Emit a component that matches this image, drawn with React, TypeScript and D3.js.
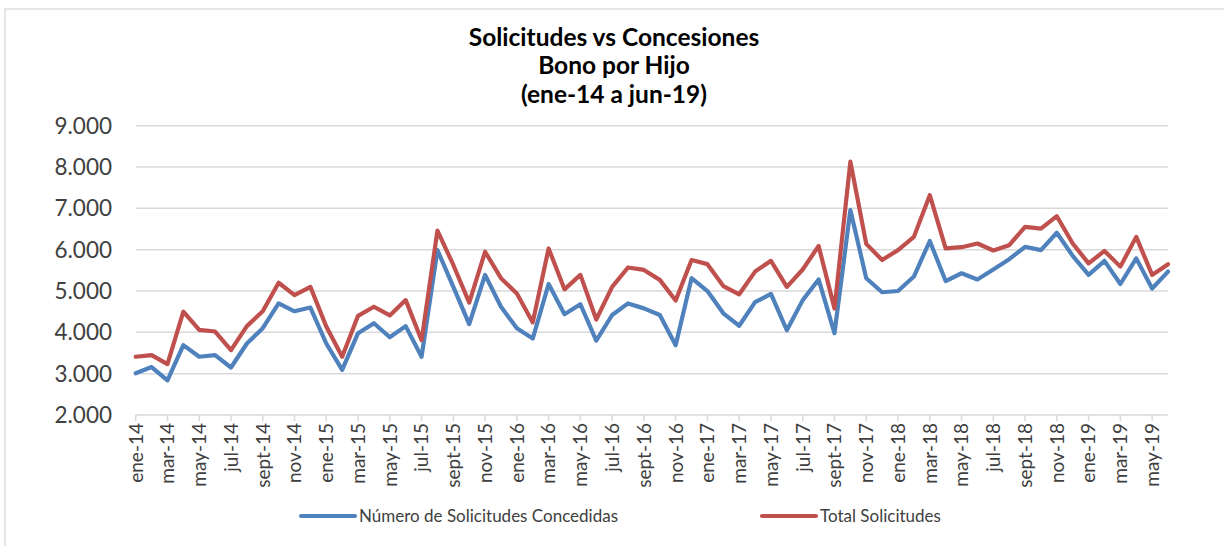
import React from "react";
import * as d3 from "d3";

// months ene-14 .. jun-19
const monthNames = ["ene", "feb", "mar", "abr", "may", "jun", "jul", "ago", "sept", "oct", "nov", "dic"];
const years = ["14", "15", "16", "17", "18", "19"];
const months: string[] = [];
years.forEach((y) => monthNames.forEach((m) => months.push(`${m}-${y}`)));
const categories = months.slice(0, 66);

const concedidas = [
  3010, 3160, 2840, 3690, 3410, 3450, 3150, 3730, 4100, 4700, 4510, 4600,
  3730, 3090, 3980, 4220, 3880, 4150, 3410, 5990, 5100, 4200, 5390, 4620,
  4100, 3850, 5170, 4440, 4680, 3800, 4420, 4700, 4580, 4420, 3690, 5310,
  5000, 4460, 4160, 4730, 4930, 4050, 4780, 5280, 3980, 6960, 5310, 4970,
  5000, 5350, 6210, 5240, 5430, 5280, 5520, 5770, 6070, 5990, 6410, 5850,
  5390, 5730, 5170, 5790, 5060, 5470,
];

const totales = [
  3410, 3450, 3230, 4500, 4060, 4020, 3570, 4150, 4510, 5200, 4900, 5100,
  4140, 3410, 4400, 4620, 4410, 4780, 3810, 6460, 5630, 4720, 5950, 5310,
  4940, 4240, 6030, 5040, 5390, 4310, 5100, 5570, 5510, 5270, 4770, 5750,
  5650, 5120, 4920, 5470, 5730, 5100, 5520, 6090, 4580, 8130, 6140, 5750,
  5990, 6310, 7320, 6030, 6060, 6150, 5980, 6110, 6550, 6510, 6810, 6150,
  5670, 5970, 5590, 6310, 5390, 5650,
];

const yTicks = [2000, 3000, 4000, 5000, 6000, 7000, 8000, 9000];
const titleLines = ["Solicitudes vs Concesiones", "Bono por Hijo", "(ene-14 a jun-19)"];
const seriesNames = ["Número de Solicitudes Concedidas", "Total Solicitudes"];
const colors = ["#4F81BD", "#C0504D"];

const W = 1224;
const H = 546;
const left = 135.7;
const right = 1168;
const top = 125.7;
const bottom = 415;
const font = "Lato, 'Open Sans', sans-serif";
const textColor = "#404040";
const gridColor = "#D9D9D9";

const fmt = (v: number) => d3.format(",")(v).replace(/,/g, ".");

export default function App() {
  const x = d3.scalePoint<string>().domain(categories).range([left, right]);
  const y = d3.scaleLinear().domain([2000, 9000]).range([bottom, top]);

  const line = d3
    .line<number>()
    .x((_, i) => x(categories[i]) as number)
    .y((d) => y(d));

  const tickCats = categories.filter((_, i) => i % 2 === 0);

  return (
    <div style={{ position: "absolute", left: 0, top: 0 }}>
      <svg width={W} height={H} style={{ display: "block", background: "#fff" }}>
        <rect x={5} y={9} width={W + 20} height={H + 20} fill="#fff" stroke={gridColor} strokeWidth={1.3} />

        {titleLines.map((t, i) => (
          <text
            key={t}
            x={614}
            y={45.5 + i * 28.8}
            textAnchor="middle"
            fontFamily={font}
            fontWeight="bold"
            fontSize={24.5}
            fill="#000"
          >
            {t}
          </text>
        ))}

        {/* gridlines */}
        {yTicks.map((t) => (
          <g key={t}>
            <line x1={left} x2={right} y1={y(t)} y2={y(t)} stroke={gridColor} strokeWidth={1.5} />
            <text
              x={112}
              y={y(t)}
              dy="0.36em"
              textAnchor="end"
              fontFamily={font}
              fontSize={22.5}
              fill={textColor}
            >
              {fmt(t)}
            </text>
          </g>
        ))}

        {/* x ticks and labels */}
        {tickCats.map((c) => {
          const px = x(c) as number;
          return (
            <g key={c}>
              <line x1={px} x2={px} y1={bottom} y2={bottom + 6} stroke={gridColor} strokeWidth={1.5} />
              <text
                transform={`translate(${px},${bottom + 8}) rotate(-90)`}
                dy="0.36em"
                textAnchor="end"
                fontFamily={font}
                fontSize={19}
                fill={textColor}
              >
                {c}
              </text>
            </g>
          );
        })}

        {/* series */}
        {[concedidas, totales].map((s, i) => (
          <path
            key={seriesNames[i]}
            d={line(s) ?? ""}
            fill="none"
            stroke={colors[i]}
            strokeWidth={4.2}
            strokeLinejoin="round"
            strokeLinecap="round"
          />
        ))}

        {/* legend */}
        {[
          { lx: 301, tx: 359 },
          { lx: 762, tx: 820 },
        ].map((p, i) => (
          <g key={seriesNames[i]}>
            <line x1={p.lx} x2={p.lx + 54} y1={516} y2={516} stroke={colors[i]} strokeWidth={4.2} strokeLinecap="round" />
            <text x={p.tx} y={516} dy="0.36em" fontFamily={font} fontSize={17} fill={textColor}>
              {seriesNames[i]}
            </text>
          </g>
        ))}
      </svg>
    </div>
  );
}
